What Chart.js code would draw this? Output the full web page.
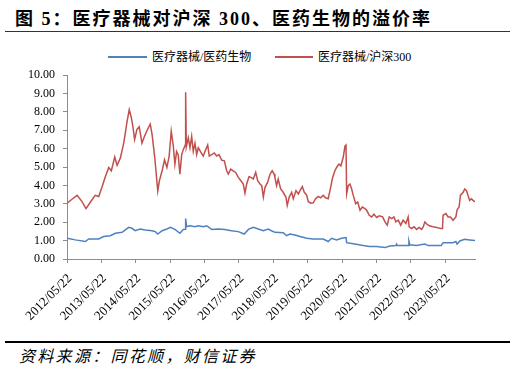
<!DOCTYPE html>
<html>
<head>
<meta charset="utf-8">
<script src="https://cdn.jsdelivr.net/npm/chart.js@4.4.0/dist/chart.umd.min.js"></script>
<style>
  body { margin: 0; background: #fff; }
  #page { position: relative; width: 515px; height: 372px; overflow: hidden; font-family: "Liberation Serif", "Noto Sans CJK SC", serif; }
  #title { position: absolute; left: 15px; top: 4px; font-size: 18px; font-weight: bold; letter-spacing: 2px; white-space: nowrap; color: #000; }
  #titleLine { position: absolute; left: 5px; top: 31px; width: 505px; height: 0; border-top: 1.5px solid #333; }
  #footLine { position: absolute; left: 5px; top: 341px; width: 505px; height: 0; border-top: 2px solid #000; }
  #source { position: absolute; left: 19px; top: 347px; font-size: 16px; font-style: italic; letter-spacing: 2.3px; white-space: nowrap; color: #000; line-height: 20px; }
  .lg-line { position: absolute; top: 56px; height: 2px; }
  .lg-text { position: absolute; top: 50px; font-size: 12px; line-height: 14px; white-space: nowrap; color: #000; }
  #chart { position: absolute; left: 0; top: 60px; }
</style>
</head>
<body>
<div id="page">
  <div id="title">图 5：医疗器械对沪深 300、医药生物的溢价率</div>
  <div id="titleLine"></div>
  <div class="lg-line" id="lgBlue" style="left:108px;width:39px;"></div>
  <div class="lg-text" id="lgBlueText" style="left:152px;"></div>
  <div class="lg-line" id="lgRed" style="left:275px;width:38px;"></div>
  <div class="lg-text" id="lgRedText" style="left:318px;"></div>
  <canvas id="chart" width="515" height="280"></canvas>
  <div id="footLine"></div>
  <div id="source">资料来源：同花顺，财信证券</div>
</div>
<script>
// x tick labels (one per year)
const tickLabels = ['2012/05/22', '2013/05/22', '2014/05/22', '2015/05/22', '2016/05/22', '2017/05/22',
  '2018/05/22', '2019/05/22', '2020/05/22', '2021/05/22', '2022/05/22', '2023/05/22'];

const seriesNames = ['医疗器械/医药生物', '医疗器械/沪深300'];
const seriesColors = ['#4F81BD', '#C0504D'];

// 医疗器械/医药生物
const blueDates = ['2012/05/22', '2012/08/18', '2012/12/03', '2013/01/08', '2013/04/24', '2013/06/15', '2013/08/25',
  '2013/10/17', '2013/12/28', '2014/03/08', '2014/04/12', '2014/05/16', '2014/07/09', '2014/08/31', '2014/11/11',
  '2014/12/16', '2015/01/11', '2015/02/26', '2015/04/18', '2015/05/25', '2015/07/12', '2015/09/03', '2015/10/09',
  '2015/10/30', '2015/11/03', '2015/11/13', '2015/12/19', '2016/02/10', '2016/03/16', '2016/05/08', '2016/06/13',
  '2016/08/06', '2016/10/15', '2016/12/23', '2017/03/03', '2017/05/15', '2017/07/17', '2017/08/31', '2017/10/21',
  '2017/12/14', '2018/02/05', '2018/03/29', '2018/04/16', '2018/06/08', '2018/09/04', '2018/10/10', '2018/11/14',
  '2019/01/07', '2019/03/02', '2019/05/12', '2019/07/20', '2019/11/03', '2019/12/26', '2020/01/31', '2020/03/24',
  '2020/05/16', '2020/07/02', '2020/07/09', '2020/09/17', '2021/01/01', '2021/03/08', '2021/05/23', '2021/08/20',
  '2021/10/11', '2021/12/14', '2021/12/21', '2021/12/28', '2022/04/23', '2022/05/01', '2022/05/11', '2022/07/21',
  '2022/10/18', '2022/11/22', '2023/04/09', '2023/04/29', '2023/08/13', '2023/09/12', '2023/09/25', '2023/10/24',
  '2023/12/15', '2024/02/06', '2024/04/02'];
const blueVals = [1.13, 1.04, 0.95, 1.09, 1.09, 1.22, 1.27,
  1.40, 1.45, 1.72, 1.67, 1.54, 1.63, 1.58, 1.54,
  1.49, 1.36, 1.54, 1.63, 1.72, 1.61, 1.40, 1.61,
  1.62, 2.20, 1.76, 1.81, 1.76, 1.81, 1.76, 1.81,
  1.61, 1.63, 1.61, 1.54, 1.49, 1.36, 1.61, 1.72,
  1.63, 1.54, 1.63, 1.58, 1.45, 1.43, 1.27, 1.36,
  1.31, 1.22, 1.13, 1.09, 1.09, 0.95, 1.13, 1.04,
  1.13, 1.17, 0.89, 0.83, 0.73, 0.68, 0.68, 0.62,
  0.71, 0.73, 0.81, 0.73, 0.73, 0.98, 0.77, 0.73,
  0.81, 0.73, 0.73, 0.89, 0.89, 0.95, 0.81, 0.98,
  1.07, 1.04, 1.00];

// 医疗器械/沪深300
const redDates = [
  '2012/05/22', '2012/07/14', '2012/09/06', '2012/10/29', '2012/12/10',
  '2013/01/26', '2013/03/18', '2013/04/24', '2013/05/28', '2013/07/03', '2013/08/08', '2013/09/05', '2013/10/11', '2013/11/05', '2013/12/10',
  '2014/01/15', '2014/02/19', '2014/03/14', '2014/04/05', '2014/04/22', '2014/05/10', '2014/06/04', '2014/06/28', '2014/07/27', '2014/08/25', '2014/09/19', '2014/10/23', '2014/11/11', '2014/12/10',
  '2015/01/11', '2015/01/28', '2015/02/26', '2015/03/24', '2015/04/18', '2015/05/12', '2015/06/03', '2015/06/24', '2015/07/12', '2015/07/30', '2015/08/16', '2015/09/03', '2015/09/22', '2015/10/09', '2015/10/30', '2015/11/03', '2015/11/10', '2015/12/01', '2015/12/19',
  '2016/01/06', '2016/01/23', '2016/02/10', '2016/02/28', '2016/03/16', '2016/04/14', '2016/05/08', '2016/05/26', '2016/06/24', '2016/07/11', '2016/08/06', '2016/09/02', '2016/09/28', '2016/10/22', '2016/11/20', '2016/12/18',
  '2017/01/12', '2017/01/29', '2017/02/24', '2017/03/22', '2017/04/17', '2017/05/15', '2017/06/12', '2017/07/07', '2017/07/25', '2017/08/12', '2017/09/06', '2017/09/27', '2017/10/21', '2017/11/16', '2017/12/07',
  '2018/01/01', '2018/01/19', '2018/02/05', '2018/02/23', '2018/03/22', '2018/04/16', '2018/05/10', '2018/05/31', '2018/06/08', '2018/06/26', '2018/07/13', '2018/08/08', '2018/09/04', '2018/10/03', '2018/10/17', '2018/11/07', '2018/12/03', '2018/12/20',
  '2019/01/18', '2019/02/12', '2019/03/02', '2019/03/26', '2019/04/16', '2019/05/12', '2019/05/28', '2019/06/22', '2019/07/20', '2019/08/14', '2019/09/11', '2019/10/06', '2019/11/03', '2019/11/28', '2019/12/26',
  '2020/01/21', '2020/02/11', '2020/03/06', '2020/03/24', '2020/04/18', '2020/05/09', '2020/06/03', '2020/06/21', '2020/07/02', '2020/07/09', '2020/07/26', '2020/08/13', '2020/08/31', '2020/09/17', '2020/10/13', '2020/11/03', '2020/11/28', '2020/12/22',
  '2021/01/20', '2021/02/07', '2021/03/06', '2021/03/31', '2021/04/25', '2021/05/23', '2021/06/20', '2021/07/26', '2021/08/20', '2021/09/13', '2021/10/04', '2021/10/30', '2021/11/23', '2021/12/14',
  '2022/01/08', '2022/02/03', '2022/03/01', '2022/03/30', '2022/04/23', '2022/05/04', '2022/05/29', '2022/06/26', '2022/07/21', '2022/08/18', '2022/09/13', '2022/09/30', '2022/10/18', '2022/11/11', '2022/12/10',
  '2023/01/14', '2023/02/19', '2023/04/02', '2023/04/23', '2023/04/29', '2023/05/28', '2023/06/22', '2023/07/16', '2023/08/13', '2023/09/12', '2023/09/25', '2023/10/16', '2023/10/30', '2023/11/28', '2023/12/15',
  '2024/01/03', '2024/01/19', '2024/02/06', '2024/02/24', '2024/03/12', '2024/04/02'];
const redVals = [
  3.04, 3.25, 3.46, 3.12, 2.74,
  3.10, 3.46, 3.40, 3.90, 4.48, 4.98, 4.80, 5.55, 5.10, 5.50,
  6.32, 7.49, 8.12, 7.70, 7.20, 6.50, 7.05, 7.20, 6.30, 6.70, 6.99, 7.34, 6.80, 5.52,
  3.69, 4.25, 4.80, 5.40, 4.98, 5.60, 6.95, 6.20, 5.16, 5.85, 5.68, 4.62, 5.68, 5.95, 6.20, 9.07, 6.10, 6.59, 6.05,
  6.67, 5.85, 6.30, 5.68, 6.05, 5.80, 5.60, 5.85, 6.20, 5.60, 5.68, 5.77, 5.60, 5.68, 5.38, 5.34,
  4.80, 4.62, 4.89, 4.80, 4.71, 4.44, 4.26, 4.08, 3.58, 4.08, 4.48, 4.44, 4.35, 4.71, 4.26,
  4.08, 3.99, 3.37, 3.90, 4.17, 4.60, 4.80, 4.62, 4.44, 3.99, 4.35, 3.81, 3.63, 3.37, 2.92, 3.37, 3.63, 3.28,
  3.72, 3.54, 3.72, 3.94, 3.63, 3.46, 3.13, 3.04, 3.06, 3.28, 3.40, 3.33, 3.46, 3.33, 3.28,
  3.90, 4.44, 4.80, 4.98, 5.16, 5.07, 5.55, 6.14, 6.20, 3.55, 3.99, 4.08, 3.81, 3.46, 3.01, 3.10, 2.65, 2.83,
  2.74, 2.65, 2.38, 2.29, 2.44, 2.26, 2.35, 2.29, 2.02, 1.84, 2.29, 2.20, 2.29, 2.02,
  2.11, 1.84, 2.11, 1.93, 2.29, 1.75, 1.66, 1.75, 1.61, 1.72, 1.61, 1.75, 2.02, 1.88, 1.79,
  1.75, 1.72, 1.66, 1.66, 2.38, 2.47, 2.29, 2.29, 2.11, 2.29, 2.68, 2.83, 3.46, 3.63, 3.81,
  3.72, 3.46, 3.19, 3.28, 3.19, 3.10];

const toTime = (s) => {
  const [y, m, d] = s.split('/').map(Number);
  return Date.UTC(y, m - 1, d);
};
const toPoints = (dates, vals) => dates.map((d, i) => ({ x: toTime(d), y: vals[i] }));

// html legend
document.getElementById('lgBlue').style.background = seriesColors[0];
document.getElementById('lgRed').style.background = seriesColors[1];
document.getElementById('lgBlueText').textContent = seriesNames[0];
document.getElementById('lgRedText').textContent = seriesNames[1];

const fontFamily = '"Liberation Serif", "Noto Sans CJK SC", serif';
const axisColor = '#8c8c8c';

new Chart(document.getElementById('chart'), {
  type: 'line',
  data: {
    datasets: [
      { label: seriesNames[0], data: toPoints(blueDates, blueVals), borderColor: seriesColors[0], backgroundColor: seriesColors[0] },
      { label: seriesNames[1], data: toPoints(redDates, redVals), borderColor: seriesColors[1], backgroundColor: seriesColors[1] }
    ]
  },
  options: {
    responsive: false,
    animation: false,
    layout: { padding: { top: 13, right: 40, left: 0, bottom: 0 } },
    elements: {
      point: { radius: 0 },
      line: { borderWidth: 1.5, tension: 0 }
    },
    plugins: {
      legend: { display: false },
      tooltip: { enabled: false }
    },
    scales: {
      x: {
        type: 'linear',
        min: toTime(tickLabels[0]),
        max: toTime(redDates[redDates.length - 1]),
        afterBuildTicks: (scale) => {
          scale.ticks = tickLabels.map(s => ({ value: toTime(s) }));
        },
        afterFit: (scale) => { scale.height = 81; },
        border: { display: true, color: axisColor, width: 1 },
        grid: { drawOnChartArea: false, drawTicks: true, tickLength: 4, color: axisColor },
        ticks: {
          autoSkip: false,
          maxRotation: 45,
          minRotation: 45,
          padding: 8,
          labelOffset: 3,
          color: '#000',
          font: { family: fontFamily, size: 13 },
          callback: (v, i) => tickLabels[i]
        }
      },
      y: {
        min: 0,
        max: 10,
        afterFit: (scale) => { scale.width = 67; },
        border: { display: true, color: axisColor, width: 1 },
        grid: { drawOnChartArea: false, drawTicks: true, tickLength: 4, color: axisColor },
        ticks: {
          stepSize: 1,
          padding: 8,
          color: '#000',
          font: { family: fontFamily, size: 12 },
          callback: (v) => v.toFixed(2)
        }
      }
    }
  }
});
</script>
</body>
</html>
